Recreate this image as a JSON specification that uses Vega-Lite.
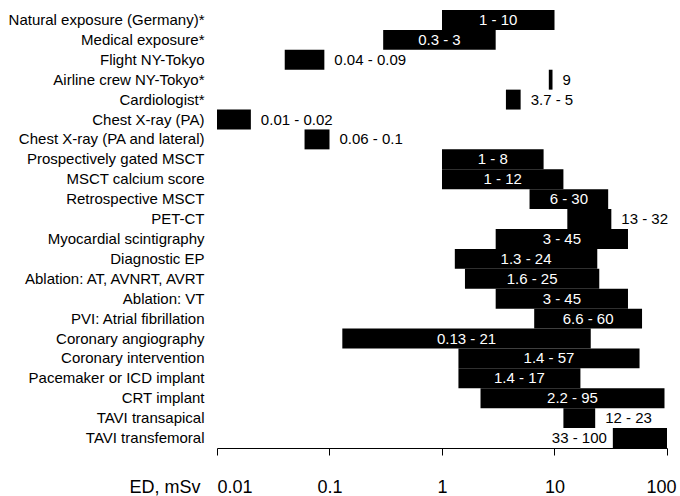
{
  "$schema": "https://vega.github.io/schema/vega-lite/v6.json",
  "autosize": "none",
  "width": 450,
  "height": 438,
  "padding": {"left": 217, "top": 10, "right": 13, "bottom": 48},
  "background": "white",
  "config": {"view": {"stroke": null}, "font": "Liberation Sans"},
  "data": {
    "values": [
      {"task": "Natural exposure (Germany)*", "lo": 1, "hi": 10, "label": "1 - 10"},
      {"task": "Medical exposure*", "lo": 0.3, "hi": 3, "label": "0.3 - 3"},
      {"task": "Flight NY-Tokyo\u00a0", "lo": 0.04, "hi": 0.09, "label": "0.04 - 0.09"},
      {"task": "Airline crew NY-Tokyo*", "lo": 8.9, "hi": 9.6, "label": "9"},
      {"task": "Cardiologist*", "lo": 3.7, "hi": 5, "label": "3.7 - 5"},
      {"task": "Chest X-ray (PA)", "lo": 0.01, "hi": 0.02, "label": "0.01 - 0.02"},
      {"task": "Chest X-ray (PA and lateral)", "lo": 0.06, "hi": 0.1, "label": "0.06 - 0.1"},
      {"task": "Prospectively gated MSCT", "lo": 1, "hi": 8, "label": "1 - 8"},
      {"task": "MSCT calcium score", "lo": 1, "hi": 12, "label": "1 - 12"},
      {"task": "Retrospective MSCT", "lo": 6, "hi": 30, "label": "6 - 30"},
      {"task": "PET-CT", "lo": 13, "hi": 32, "label": "13 - 32"},
      {"task": "Myocardial scintigraphy", "lo": 3, "hi": 45, "label": "3 - 45"},
      {"task": "Diagnostic EP", "lo": 1.3, "hi": 24, "label": "1.3 - 24"},
      {"task": "Ablation: AT, AVNRT, AVRT", "lo": 1.6, "hi": 25, "label": "1.6 - 25"},
      {"task": "Ablation: VT", "lo": 3, "hi": 45, "label": "3 - 45"},
      {"task": "PVI: Atrial fibrillation", "lo": 6.6, "hi": 60, "label": "6.6 - 60"},
      {"task": "Coronary angiography", "lo": 0.13, "hi": 21, "label": "0.13 - 21"},
      {"task": "Coronary intervention", "lo": 1.4, "hi": 57, "label": "1.4 - 57"},
      {"task": "Pacemaker or ICD implant", "lo": 1.4, "hi": 17, "label": "1.4 - 17"},
      {"task": "CRT implant", "lo": 2.2, "hi": 95, "label": "2.2 - 95"},
      {"task": "TAVI transapical", "lo": 12, "hi": 23, "label": "12 - 23"},
      {"task": "TAVI transfemoral", "lo": 33, "hi": 100, "label": "33 - 100"}
    ]
  },
  "encoding": {
    "y": {
      "field": "task",
      "type": "nominal",
      "sort": null,
      "scale": {"paddingInner": 0, "paddingOuter": 0},
      "axis": {
        "title": null,
        "domain": false,
        "ticks": false,
        "labelPadding": 13,
        "labelFontSize": 15,
        "labelColor": "black",
        "labelLimit": 0
      }
    }
  },
  "layer": [
    {
      "mark": {"type": "bar", "color": "black"},
      "encoding": {
        "x": {
          "field": "lo",
          "type": "quantitative",
          "scale": {"type": "log", "domain": [0.01, 100], "nice": false},
          "axis": {
            "values": [0.01, 0.1, 1, 10, 100],
            "format": "~g",
            "grid": false,
            "tickSize": 7,
            "tickColor": "black",
            "domainColor": "black",
            "labelFontSize": 18,
            "labelColor": "black",
            "labelPadding": 37,
            "labelBaseline": "alphabetic",
            "labelOverlap": false,
            "labelBound": false,
            "labelAlign": {"condition": {"test": "datum.value <= 0.01", "value": "left"}, "value": "center"},
            "labelOffset": {"condition": {"test": "datum.value >= 100", "value": -6}, "value": 0},
            "title": "ED, mSv",
            "titleX": -17,
            "titleY": 44,
            "titleAlign": "right",
            "titleBaseline": "alphabetic",
            "titleFontSize": 18,
            "titleFontWeight": "normal",
            "titleColor": "black"
          }
        },
        "x2": {"field": "hi"}
      }
    },
    {
      "transform": [
        {"filter": "datum.hi / datum.lo >= 4"},
        {"calculate": "sqrt(datum.lo * datum.hi)", "as": "mid"}
      ],
      "mark": {"type": "text", "color": "white", "fontSize": 15, "align": "center", "baseline": "middle"},
      "encoding": {
        "x": {"field": "mid", "type": "quantitative"},
        "text": {"field": "label"}
      }
    },
    {
      "transform": [{"filter": "datum.hi / datum.lo < 4 && datum.hi < 100"}],
      "mark": {"type": "text", "color": "black", "fontSize": 15, "align": "left", "baseline": "middle", "dx": 10},
      "encoding": {
        "x": {"field": "hi", "type": "quantitative"},
        "text": {"field": "label"}
      }
    },
    {
      "transform": [{"filter": "datum.hi / datum.lo < 4 && datum.hi >= 100"}],
      "mark": {"type": "text", "color": "black", "fontSize": 15, "align": "right", "baseline": "middle", "dx": -6},
      "encoding": {
        "x": {"field": "lo", "type": "quantitative"},
        "text": {"field": "label"}
      }
    }
  ]
}
